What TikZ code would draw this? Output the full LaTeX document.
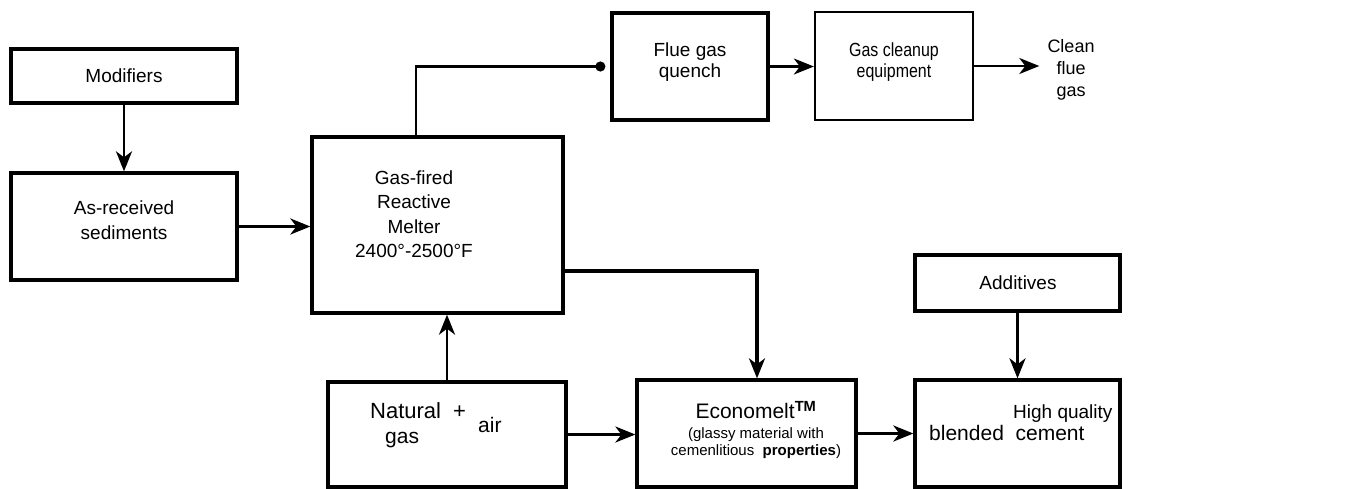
\documentclass[tikz,border=0pt]{standalone}
\usepackage{fontspec}
\setmainfont{Liberation Sans}
\newfontfamily\narrowfont[FakeStretch=0.84]{Liberation Sans}
\usetikzlibrary{arrows.meta}

\begin{document}
\begin{tikzpicture}[x=1pt, y=-1pt,
    txt/.style={align=center, inner sep=0pt, font=\fontsize{19}{24.5}\selectfont}]
      \useasboundingbox (0,0) rectangle (1356,488);

      \begin{scope}[every node/.style={rectangle, draw, line width=3.3pt, inner sep=0pt}]
          \node[minimum width=226pt, minimum height=54pt] (mod) at (124,76) {};
          \node[minimum width=226pt, minimum height=107pt] (recv) at (124,226.5) {};
          \node[minimum width=251pt, minimum height=176pt] (melter) at (437.5,225) {};
          \node[minimum width=156pt, minimum height=107pt] (quench) at (690,66.5) {};
          \node[minimum width=158pt, minimum height=108pt, line width=2.3pt] (cleanup) at (894,66) {};
          \node[minimum width=238pt, minimum height=105pt] (natgas) at (447,434.5) {};
          \node[minimum width=219pt, minimum height=107pt] (econo) at (746.5,433.5) {};
          \node[minimum width=205pt, minimum height=56pt] (additives) at (1017.5,283) {};
          \node[minimum width=205pt, minimum height=107pt] (hq) at (1017.5,433.5) {};
      \end{scope}

      \node[txt] (modtxt) at (124,76) {Modifiers};
      \node[txt] (recvtxt) at (124,220) {As-received\\sediments};
      \node[txt] (meltertxt) at (414,214) {Gas-fired\\Reactive\\Melter\\2400°-2500°F};
      \node[txt, font=\fontsize{19}{21}\selectfont] (quenchtxt) at (690,62) {Flue gas\\quench};
      \node[txt, font=\fontsize{19}{21}\narrowfont] (cleanuptxt) at (894,62) {Gas cleanup\\equipment};
      \node[txt, font=\fontsize{18}{22}\selectfont, inner xsep=8pt] (clean) at (1071,70) {Clean\\flue\\gas};
      \node[txt] (addtxt) at (1018,283) {Additives};
      \node[txt, font=\fontsize{22}{24}\selectfont, anchor=base west] (natural) at (370,418) {Natural\hspace{12pt}+};
      \node[txt, font=\fontsize{21}{24}\selectfont, anchor=base west] (gas) at (385,443) {gas};
      \node[txt, font=\fontsize{21}{24}\selectfont, anchor=base west] (air) at (478,432) {air};
      \node[txt, font=\fontsize{15}{17}\selectfont] (econotxt) at (756,430)
          {{\fontsize{21}{21}\selectfont Economelt\textsuperscript{\textbf{TM}}}\\[3pt]
           (glassy\ material\ with\\cemenlitious\ \ \textbf{properties})};
      \node[txt, anchor=base west] (high) at (1013,418) {High quality};
      \node[txt, font=\fontsize{21}{24}\selectfont, anchor=base west] (blended) at (929,440) {blended\ \ cement};

      \begin{scope}[>={Stealth[length=20pt, width=16pt, inset=6pt]},
                    every edge/.style={draw, line width=2.8pt}]
        \path [->] (mod) edge (recv);
        \path [->] (recv.east) edge (recv.east -| melter.west);
        \path [->] (natgas.north) edge (natgas.north |- melter.south);
        \path [->] (natgas.east) edge[line width=2.2pt] (natgas.east -| econo.west);
        \path [->] (econo) edge[line width=3.2pt] (hq);
        \path [->] (additives) edge[line width=3.2pt] (hq);
        \path [->] (quench.east) edge[line width=2.3pt] (quench.east -| cleanup.west);
        \path [->] (cleanup.east) edge[line width=2.3pt] (cleanup.east -| clean.west);
        \draw [->, line width=3.2pt] ([yshift=-46pt]melter.east) -| ([xshift=10.5pt]econo.north);
        \draw [-{Circle[length=10pt]}, shorten >=5pt, line width=2.3pt]
              ([xshift=-21.5pt]melter.north) |- (quench.west);
      \end{scope}
\end{tikzpicture}
\end{document}
